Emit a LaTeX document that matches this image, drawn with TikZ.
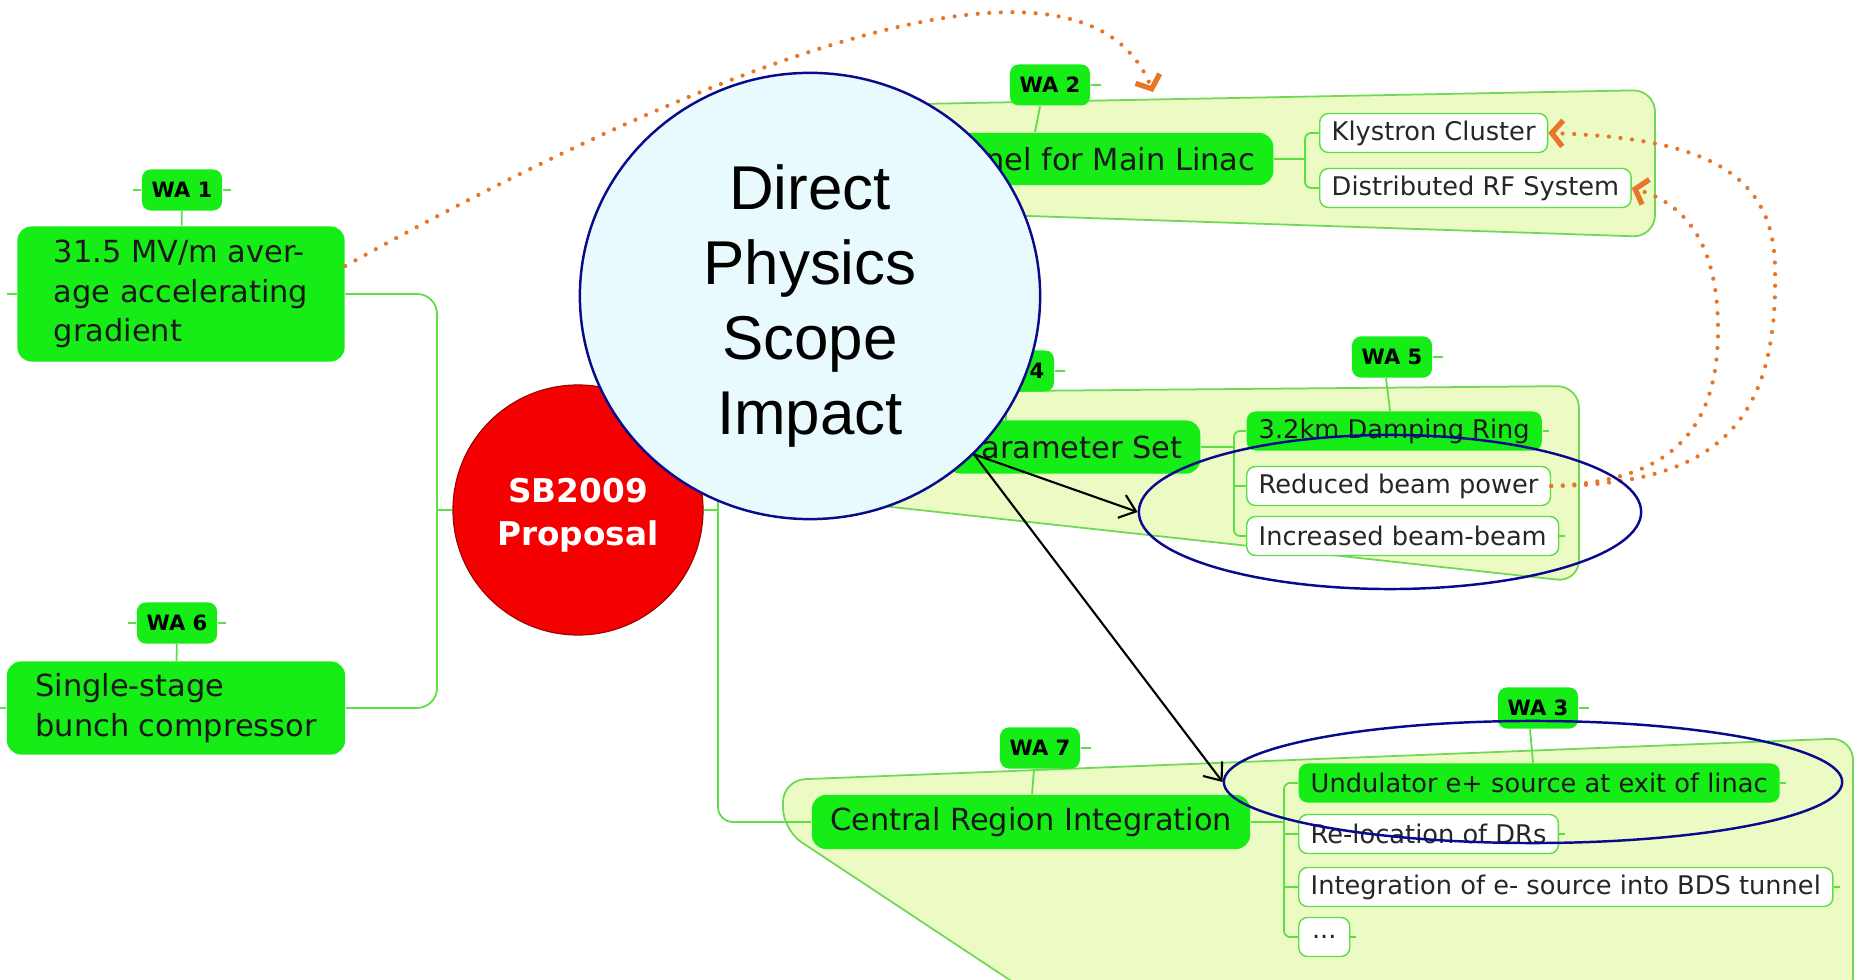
\documentclass[tikz,border=0pt]{standalone}
\usepackage{fontspec}
\setmainfont{DejaVu Sans}
\newfontfamily\helvfont{Liberation Sans}
\usepackage{tikz}
\usetikzlibrary{arrows.meta,positioning,shapes.geometric}
\definecolor{mapgreen}{RGB}{22,236,22}
\definecolor{linkgreen}{RGB}{92,222,70}
\definecolor{blobfill}{RGB}{236,250,196}
\definecolor{blobline}{RGB}{112,216,84}
\definecolor{dotorange}{RGB}{232,118,40}
\definecolor{scopefill}{RGB}{232,250,253}
\definecolor{scopeline}{RGB}{10,10,140}
\definecolor{propred}{RGB}{244,0,0}

\begin{document}
\begin{tikzpicture}[x=0.01cm, y=-0.01cm,
  topic/.style={fill=mapgreen, rounded corners=4pt, inner xsep=0.18cm, inner ysep=0pt,
                font=\fontsize{8.65}{11.2}\selectfont, text=black!90},
  sub/.style={draw=linkgreen, fill=white, rounded corners=2.5pt, anchor=west, inner xsep=0.12cm,
              inner ysep=0pt, minimum height=0.39cm, font=\fontsize{7.3}{8.8}\selectfont, text=black!85},
  subg/.style={sub, draw=none, fill=mapgreen, text=black!90},
  tag/.style={fill=mapgreen, rounded corners=2.5pt, minimum width=0.8cm, minimum height=0.41cm,
              inner sep=0pt, font=\fontsize{6}{7}\selectfont\bfseries},
  link/.style={draw=linkgreen, line width=0.5pt},
  blob/.style={draw=blobline, fill=blobfill, line width=0.5pt, rounded corners=0.22cm},
  dotarr/.style={dotorange, line width=1.2pt, line cap=round, dash pattern=on 0pt off 3.3pt,
                 -{Straight Barb[length=1.1mm, width=2.6mm, line width=1.5pt]}},
  ring/.style={draw=scopeline, line width=0.7pt, ellipse, inner sep=0pt},
  ar/.style={-{Straight Barb[length=1.5mm, width=2.4mm]}, line width=0.6pt},
]
  \useasboundingbox (0,0) rectangle (1855,980);
  \clip (0,0) rectangle (1855,980);
  % groups
  \draw[blob] (760,107) -- (1655,90) -- (1655,237) -- (760,207) -- cycle;
  \draw[blob] (900,392) -- (1579,386) -- (1579,582) -- (800,497) -- cycle;
  \draw[blob] (783,780) -- (1853,738) -- (1853,1000) -- (1040,1000) -- (783,830) -- cycle;
  % left branches
  \node[tag] (wa1) at (182,190) {WA 1};
  \node[topic, align=left, minimum width=3.27cm, minimum height=1.35cm] (grad) at (181,294)
     {31.5 MV/m aver-\\age accelerating\\gradient};
  \node[tag] (wa6) at (177,623) {WA 6};
  \node[topic, align=left, minimum width=3.38cm, minimum height=0.93cm] (bunch) at (176,708)
     {Single-stage\\bunch compressor};
  \node[circle, fill=propred, draw=red!60!black, line width=0.3pt, minimum size=2.5cm,
     label={[text=white, align=center, yshift=-0.05cm, font=\fontsize{9.3}{12.2}\selectfont\bfseries]center:SB2009\\Proposal}]
     (sb) at (578,510) {};
  % tunnel group
  \node[tag] (wa2) at (1050,85) {WA 2};
  \node[topic, anchor=east, minimum height=0.52cm] (tunnel) at (1274,159) {Tunnel for Main Linac};
  \node[sub] (kly) at (1319,133) {Klystron Cluster};
  \node[sub] (drf) at (1319,188) {Distributed RF System};
  % parameter group
  \node[tag] (wa4) at (1014,371) {WA 4};
  \node[topic, anchor=east, minimum height=0.53cm] (param) at (1201,447) {Parameter Set};
  \node[tag] (wa5) at (1392,357) {WA 5};
  \node[subg] (damp) at (1246,431) {3.2km Damping Ring};
  \node[sub] (rbp) at (1246,486) {Reduced beam power};
  \node[sub] (ibb) at (1246,536) {Increased beam-beam};
  % central group
  \node[tag] (wa7) at (1040,748) {WA 7};
  \node[topic, minimum width=4.38cm, minimum height=0.54cm] (central) at (1031,822) {Central Region Integration};
  \node[tag] (wa3) at (1538,708) {WA 3};
  \node[subg] (und) at (1298,783) {Undulator e+ source at exit of linac};
  \node[sub] (reloc) at (1298,834) {Re-location of DRs};
  \node[sub] (integ) at (1298,887) {Integration of e- source into BDS tunnel};
  \node[sub, minimum width=0.51cm] (more) at (1298,937) {...};
  % spines
  \coordinate (spL) at (437,510);
  \coordinate (spR) at (718,510);
  \draw[link, rounded corners=0.2cm] (grad.east) -| (spL) |- (bunch.east);
  \draw[link] (spL) -- (sb.west); \draw[link] (sb.east) -- (spR);
  \draw[link, rounded corners=0.15cm] (tunnel.west) -| (spR) |- (central.west);
  \draw[link] (spR |- param.west) -- (param.west);
  \draw[link] (grad.west) -- ++(-10,0); \draw[link] (bunch.west) -- ++(-8,0);
  % brackets
  \coordinate (brT) at (1305,159);
  \coordinate (brP) at (1234,447);
  \coordinate (brC) at (1284,822);
  \draw[link] (tunnel.east) -- (brT);
  \draw[link, rounded corners=0.06cm] (kly.west) -| (brT) |- (drf.west);
  \draw[link] (param.east) -- (brP);
  \draw[link, rounded corners=0.06cm] (damp.west) -| (brP) |- (ibb.west);
  \draw[link] (brP |- rbp.west) -- (rbp.west);
  \draw[link] (central.east) -- (brC);
  \draw[link, rounded corners=0.06cm] (und.west) -| (brC) |- (more.west);
  \draw[link] (brC |- reloc.west) -- (reloc.west); \draw[link] (brC |- integ.west) -- (integ.west);
  \draw[link] (damp.east) -- ++(6,0); \draw[link] (ibb.east) -- ++(6,0);
  \draw[link] (und.east) -- ++(6,0); \draw[link] (reloc.east) -- ++(6,0);
  \draw[link] (integ.east) -- ++(6,0); \draw[link] (more.east) -- ++(6,0);
  % tags
  \draw[link] (wa1) -- (grad); \draw[link] (wa6) -- (bunch);
  \draw[link] (wa1.west) -- ++(-8,0); \draw[link] (wa1.east) -- ++(8,0);
  \draw[link] (wa6.west) -- ++(-8,0); \draw[link] (wa6.east) -- ++(8,0);
  \draw[link] ([xshift=-0.1cm]wa2.south) -- ([xshift=-0.15cm]wa2.south |- tunnel.north);
  \draw[link] ([xshift=-0.08cm]wa4.south) -- ([xshift=-0.08cm]wa4.south |- param.north);
  \draw[link] ([xshift=-0.06cm]wa5.south) -- ([xshift=-0.02cm]wa5.south |- damp.north);
  \draw[link] ([xshift=-0.06cm]wa7.south) -- ([xshift=-0.08cm]wa7.south |- central.north);
  \draw[link] ([xshift=-0.08cm]wa3.south) -- ([xshift=-0.05cm]wa3.south |- und.north);
  \draw[link] (wa2.east) -- ++(10,0); \draw[link] (wa4.east) -- ++(10,0);
  \draw[link] (wa5.east) -- ++(10,0); \draw[link] (wa7.east) -- ++(10,0);
  \draw[link] (wa3.east) -- ++(10,0);
  % dotted links
  \coordinate (tunneltop) at (1153,92);
  \draw[dotarr] ([yshift=0.28cm]grad.east) .. controls (680,80) and (1080,-90) .. (tunneltop);
  \draw[dotarr] (rbp.east) .. controls (1720,485) and (1778,420) .. (1775,270)
     .. controls (1775,170) and (1700,138) .. (kly.east);
  \draw[dotarr] (rbp.east) .. controls (1660,482) and (1718,440) .. (1718,330)
     .. controls (1718,250) and (1690,205) .. (drf.east);
  % impact overlay
  \node[ellipse, draw=scopeline, line width=0.7pt, fill=scopefill, minimum width=4.6cm,
     minimum height=4.46cm, label={[align=center, yshift=-0.1cm,
     font=\helvfont\fontsize{17.6}{21.3}\selectfont]center:Direct\\Physics\\Scope\\Impact}]
     (scope) at (810,296) {};
  \node[ring, minimum width=5.02cm, minimum height=1.54cm] (ringP) at (1390,512) {};
  \node[ring, minimum width=6.18cm, minimum height=1.22cm] (ringC) at (1533,782) {};
  \draw[ar] (scope.-44) -- (ringP.west); \draw[ar] (scope.-44) -- (ringC.west);
\end{tikzpicture}
\end{document}
